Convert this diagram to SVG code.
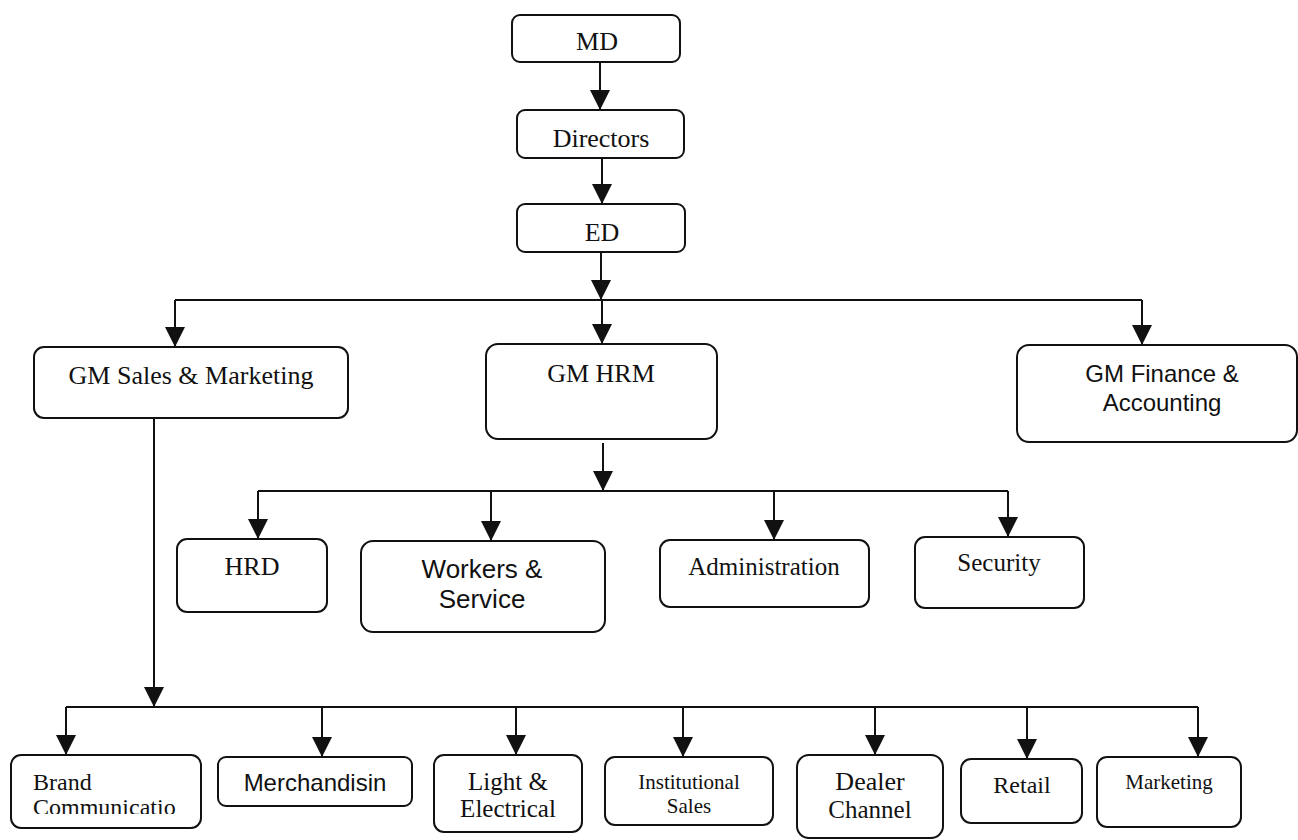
<svg xmlns="http://www.w3.org/2000/svg" width="1298" height="840" viewBox="0 0 1298 840">
<style>
.box{fill:#fff;stroke:#111;stroke-width:2}
.t{font-family:"Liberation Serif","Times New Roman",serif;font-size:26px;fill:#111;text-anchor:middle}
.ts{font-family:"Liberation Serif","Times New Roman",serif;font-size:21px;fill:#111;text-anchor:middle}
.a{font-family:"Liberation Sans",Arial,sans-serif;font-size:25px;fill:#111;text-anchor:middle}
.c{fill:none;stroke:#111;stroke-width:2}
</style>
<defs>
<marker id="ah" markerUnits="userSpaceOnUse" markerWidth="20" markerHeight="20" refX="20" refY="10" orient="auto">
<path d="M0,0 L20,10 L0,20 z" fill="#111"/>
</marker>
<clipPath id="clipBrand"><rect x="11" y="755" width="190" height="59"/></clipPath>
</defs>
<rect width="1298" height="840" fill="#fff"/>
<g id="connectors">
<path class="c" d="M600,62 V110" marker-end="url(#ah)"/>
<path class="c" d="M602,158 V204" marker-end="url(#ah)"/>
<path class="c" d="M601,252 V300" marker-end="url(#ah)"/>
<path class="c" d="M175,300 H1142"/>
<path class="c" d="M175,300 V347" marker-end="url(#ah)"/>
<path class="c" d="M602,300 V344" marker-end="url(#ah)"/>
<path class="c" d="M1142,300 V345" marker-end="url(#ah)"/>
<path class="c" d="M603,443 V491" marker-end="url(#ah)"/>
<path class="c" d="M258,491 H1008"/>
<path class="c" d="M258,491 V539" marker-end="url(#ah)"/>
<path class="c" d="M491,491 V541" marker-end="url(#ah)"/>
<path class="c" d="M774,491 V540" marker-end="url(#ah)"/>
<path class="c" d="M1008,491 V537" marker-end="url(#ah)"/>
<path class="c" d="M154,418 V707" marker-end="url(#ah)"/>
<path class="c" d="M66,707 H1198"/>
<path class="c" d="M66,707 V755" marker-end="url(#ah)"/>
<path class="c" d="M322,707 V757" marker-end="url(#ah)"/>
<path class="c" d="M516,707 V755" marker-end="url(#ah)"/>
<path class="c" d="M683,707 V757" marker-end="url(#ah)"/>
<path class="c" d="M875,707 V755" marker-end="url(#ah)"/>
<path class="c" d="M1027,707 V759" marker-end="url(#ah)"/>
<path class="c" d="M1198,707 V757" marker-end="url(#ah)"/>
</g>
<g id="md"><rect class="box" x="512" y="15" width="168" height="47" rx="8"/><text class="t" x="597" y="50">MD</text></g>
<g id="directors"><rect class="box" x="517" y="110" width="167" height="48" rx="8"/><text class="t" x="601" y="147">Directors</text></g>
<g id="ed"><rect class="box" x="517" y="204" width="168" height="48" rx="8"/><text class="t" x="602" y="241">ED</text></g>
<g id="gm-sales"><rect class="box" x="34" y="347" width="314" height="71" rx="10"/><text class="t" x="191" y="384">GM Sales &amp; Marketing</text></g>
<g id="gm-hrm"><rect class="box" x="486" y="344" width="231" height="95" rx="12"/><text class="t" x="601" y="382">GM HRM</text></g>
<g id="gm-finance"><rect class="box" x="1017" y="345" width="280" height="97" rx="12"/><text class="a" x="1162" y="382" style="font-size:24px">GM Finance &amp;</text><text class="a" x="1162" y="411" style="font-size:24px">Accounting</text></g>
<g id="hrd"><rect class="box" x="177" y="539" width="150" height="73" rx="10"/><text class="t" x="252" y="575">HRD</text></g>
<g id="workers"><rect class="box" x="361" y="541" width="244" height="91" rx="12"/><text class="a" x="482" y="578" style="font-size:26px">Workers &amp;</text><text class="a" x="482" y="608" style="font-size:26px">Service</text></g>
<g id="administration"><rect class="box" x="660" y="540" width="209" height="67" rx="10"/><text class="t" x="764" y="575" style="font-size:25px">Administration</text></g>
<g id="security"><rect class="box" x="915" y="537" width="169" height="71" rx="10"/><text class="t" x="999" y="571" style="font-size:25px">Security</text></g>
<g id="brand"><rect class="box" x="11" y="755" width="190" height="73" rx="10"/><g clip-path="url(#clipBrand)"><text class="t" x="33" y="790" style="text-anchor:start;font-size:24px">Brand</text><text class="t" x="33" y="815" style="text-anchor:start;font-size:24px">Communicatio</text></g></g>
<g id="merchandising"><rect class="box" x="218" y="757" width="194" height="49" rx="8"/><text class="a" x="315" y="791" style="font-size:24px">Merchandisin</text></g>
<g id="light"><rect class="box" x="434" y="755" width="148" height="77" rx="10"/><text class="t" x="508" y="790" style="font-size:25px">Light &amp;</text><text class="t" x="508" y="817" style="font-size:25px">Electrical</text></g>
<g id="institutional"><rect class="box" x="605" y="757" width="168" height="68" rx="10"/><text class="ts" x="689" y="789">Institutional</text><text class="ts" x="689" y="813">Sales</text></g>
<g id="dealer"><rect class="box" x="797" y="755" width="146" height="83" rx="12"/><text class="t" x="870" y="790">Dealer</text><text class="t" x="870" y="818" style="font-size:25px">Channel</text></g>
<g id="retail"><rect class="box" x="961" y="759" width="121" height="64" rx="10"/><text class="t" x="1022" y="793" style="font-size:24px">Retail</text></g>
<g id="marketing"><rect class="box" x="1097" y="757" width="144" height="70" rx="10"/><text class="ts" x="1169" y="789">Marketing</text></g>
</svg>
